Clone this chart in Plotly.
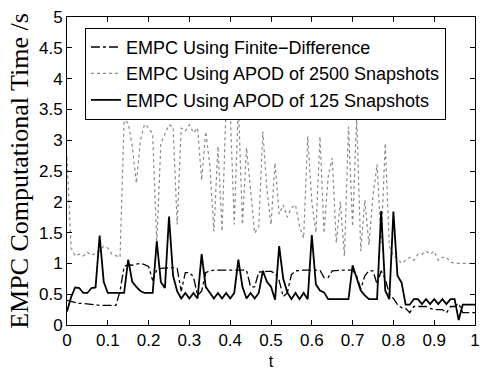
import plotly.graph_objects as go

t = [0.00, 0.01, 0.02, 0.03, 0.04, 0.05, 0.06, 0.07, 0.08, 0.09,
     0.10, 0.11, 0.12, 0.13, 0.14, 0.15, 0.16, 0.17, 0.18, 0.19,
     0.20, 0.21, 0.22, 0.23, 0.24, 0.25, 0.26, 0.27, 0.28, 0.29,
     0.30, 0.31, 0.32, 0.33, 0.34, 0.35, 0.36, 0.37, 0.38, 0.39,
     0.40, 0.41, 0.42, 0.43, 0.44, 0.45, 0.46, 0.47, 0.48, 0.49,
     0.50, 0.51, 0.52, 0.53, 0.54, 0.55, 0.56, 0.57, 0.58, 0.59,
     0.60, 0.61, 0.62, 0.63, 0.64, 0.65, 0.66, 0.67, 0.68, 0.69,
     0.70, 0.71, 0.72, 0.73, 0.74, 0.75, 0.76, 0.77, 0.78, 0.79,
     0.80, 0.81, 0.82, 0.83, 0.84, 0.85, 0.86, 0.87, 0.88, 0.89,
     0.90, 0.91, 0.92, 0.93, 0.94, 0.95, 0.96, 0.97, 0.98, 0.99, 1.00]

finite_difference = [
    0.40, 0.38, 0.36, 0.35, 0.35, 0.34, 0.33, 0.33, 0.32, 0.32,
    0.32, 0.32, 0.32, 0.55, 0.95, 0.98, 0.97, 0.99, 1.00, 0.98,
    0.95, 0.72, 0.90, 0.92, 0.93, 0.93, 0.93, 0.92, 0.55, 0.85,
    0.85, 0.78, 0.48, 0.55, 0.85, 0.88, 0.89, 0.89, 0.89, 0.89,
    0.89, 0.89, 0.89, 0.89, 0.89, 0.62, 0.62, 0.86, 0.87, 0.87,
    0.87, 0.84, 0.72, 0.46, 0.52, 0.82, 0.88, 0.89, 0.89, 0.89,
    0.89, 0.89, 0.89, 0.77, 0.77, 0.88, 0.89, 0.89, 0.89, 0.89,
    0.89, 0.80, 0.58, 0.80, 0.88, 0.88, 0.66, 0.88, 0.75, 0.50,
    0.43, 0.33, 0.28, 0.27, 0.20, 0.30, 0.30, 0.30, 0.30, 0.27,
    0.25, 0.25, 0.25, 0.20, 0.30, 0.30, 0.35, 0.20, 0.20, 0.20, 0.20]

apod_2500 = [
    2.72, 1.25, 1.12, 1.15, 1.12, 1.18, 1.13, 1.17, 1.20, 1.28,
    1.25, 1.15, 1.12, 1.10, 3.32, 3.28, 2.90, 2.30, 3.00, 3.26,
    3.20, 3.10, 1.33, 2.95, 3.10, 3.25, 3.22, 1.63, 3.20, 3.15,
    3.25, 3.12, 3.20, 2.35, 3.14, 2.60, 1.52, 2.90, 1.52, 3.58,
    3.50, 1.63, 3.60, 1.63, 2.88, 2.20, 1.49, 1.60, 3.14, 2.20,
    1.63, 2.63, 1.80, 1.95, 1.75, 1.90, 1.95, 1.60, 1.41, 3.06,
    2.00, 1.50, 3.06, 1.49, 2.40, 2.71, 1.33, 2.00, 1.12, 3.22,
    1.60, 3.38, 1.20, 2.03, 1.30, 2.10, 2.61, 1.33, 2.95, 1.28,
    1.12, 1.08, 1.00, 1.05, 1.10, 1.05, 1.15, 1.15, 1.20, 1.15,
    1.20, 1.05, 1.10, 1.10, 1.02, 1.00, 1.00, 1.00, 1.00, 1.00, 1.00]

apod_125 = [
    0.22, 0.45, 0.61, 0.60, 0.52, 0.52, 0.60, 0.61, 1.45, 0.70,
    0.52, 0.52, 0.52, 0.52, 0.52, 1.06, 0.70, 0.62, 0.55, 0.52,
    0.52, 0.52, 1.36, 0.70, 0.60, 1.76, 0.80, 0.55, 0.43, 0.52,
    0.43, 0.52, 0.43, 1.15, 0.62, 0.52, 0.43, 0.52, 0.43, 0.52,
    0.43, 0.52, 1.06, 0.62, 0.43, 0.52, 0.43, 0.52, 0.88, 0.70,
    0.62, 0.41, 1.28, 0.75, 0.53, 0.42, 0.52, 0.42, 0.52, 0.42,
    1.46, 0.66, 0.56, 0.53, 0.42, 0.42, 0.42, 0.42, 0.42, 0.42,
    0.97, 0.75, 0.56, 0.48, 0.42, 0.42, 0.42, 1.85, 0.56, 0.42,
    1.84, 0.80, 0.69, 0.33, 0.33, 0.42, 0.42, 0.34, 0.42, 0.34,
    0.42, 0.34, 0.42, 0.34, 0.42, 0.42, 0.08, 0.33, 0.33, 0.33, 0.33]

names = ["EMPC Using Finite\u2212Difference",
         "EMPC Using APOD of 2500 Snapshots",
         "EMPC Using APOD of 125 Snapshots"]

x_ticks = [0, 0.1, 0.2, 0.3, 0.4, 0.5, 0.6, 0.7, 0.8, 0.9, 1]
y_ticks = [0, 0.5, 1, 1.5, 2, 2.5, 3, 3.5, 4, 4.5, 5]

sans = "Liberation Sans, Arial, Helvetica, sans-serif"
serif = "Liberation Serif, Times New Roman, serif"

fig = go.Figure()
fig.add_trace(go.Scatter(x=t, y=finite_difference, mode="lines", name=names[0],
                         line=dict(color="black", width=1.3, dash="dashdot")))
fig.add_trace(go.Scatter(x=t, y=apod_2500, mode="lines", name=names[1],
                         line=dict(color="#8a8a8a", width=1.2, dash="dot")))
fig.add_trace(go.Scatter(x=t, y=apod_125, mode="lines", name=names[2],
                         line=dict(color="black", width=1.8)))

axis_common = dict(showline=True, linecolor="black", linewidth=1, mirror="ticks",
                   ticks="inside", ticklen=5, tickcolor="black", showgrid=False,
                   zeroline=False, ticklabeloverflow="allow",
                   tickfont=dict(family=sans, size=17, color="black"))

fig.update_layout(
    width=482, height=370,
    margin=dict(l=67, r=2, t=17, b=40),
    paper_bgcolor="white", plot_bgcolor="white",
    showlegend=True,
    legend=dict(x=0.044, y=0.965, xanchor="left", yanchor="top",
                bgcolor="white", bordercolor="black", borderwidth=1,
                font=dict(family=sans, size=18, color="black"),
                tracegroupgap=0, itemwidth=30),
    xaxis=dict(range=[0, 1], tickvals=x_ticks, ticktext=[f"{v:g}" for v in x_ticks],
               title=dict(text="t", font=dict(family=sans, size=16, color="black"), standoff=6),
               **axis_common),
    yaxis=dict(range=[0, 5], tickvals=y_ticks, ticktext=[f"{v:g}" for v in y_ticks],
               title=dict(text="EMPC Computational Time /s",
                          font=dict(family=serif, size=26, color="black"), standoff=2),
               **axis_common),
)

fig.write_html("out.html")
